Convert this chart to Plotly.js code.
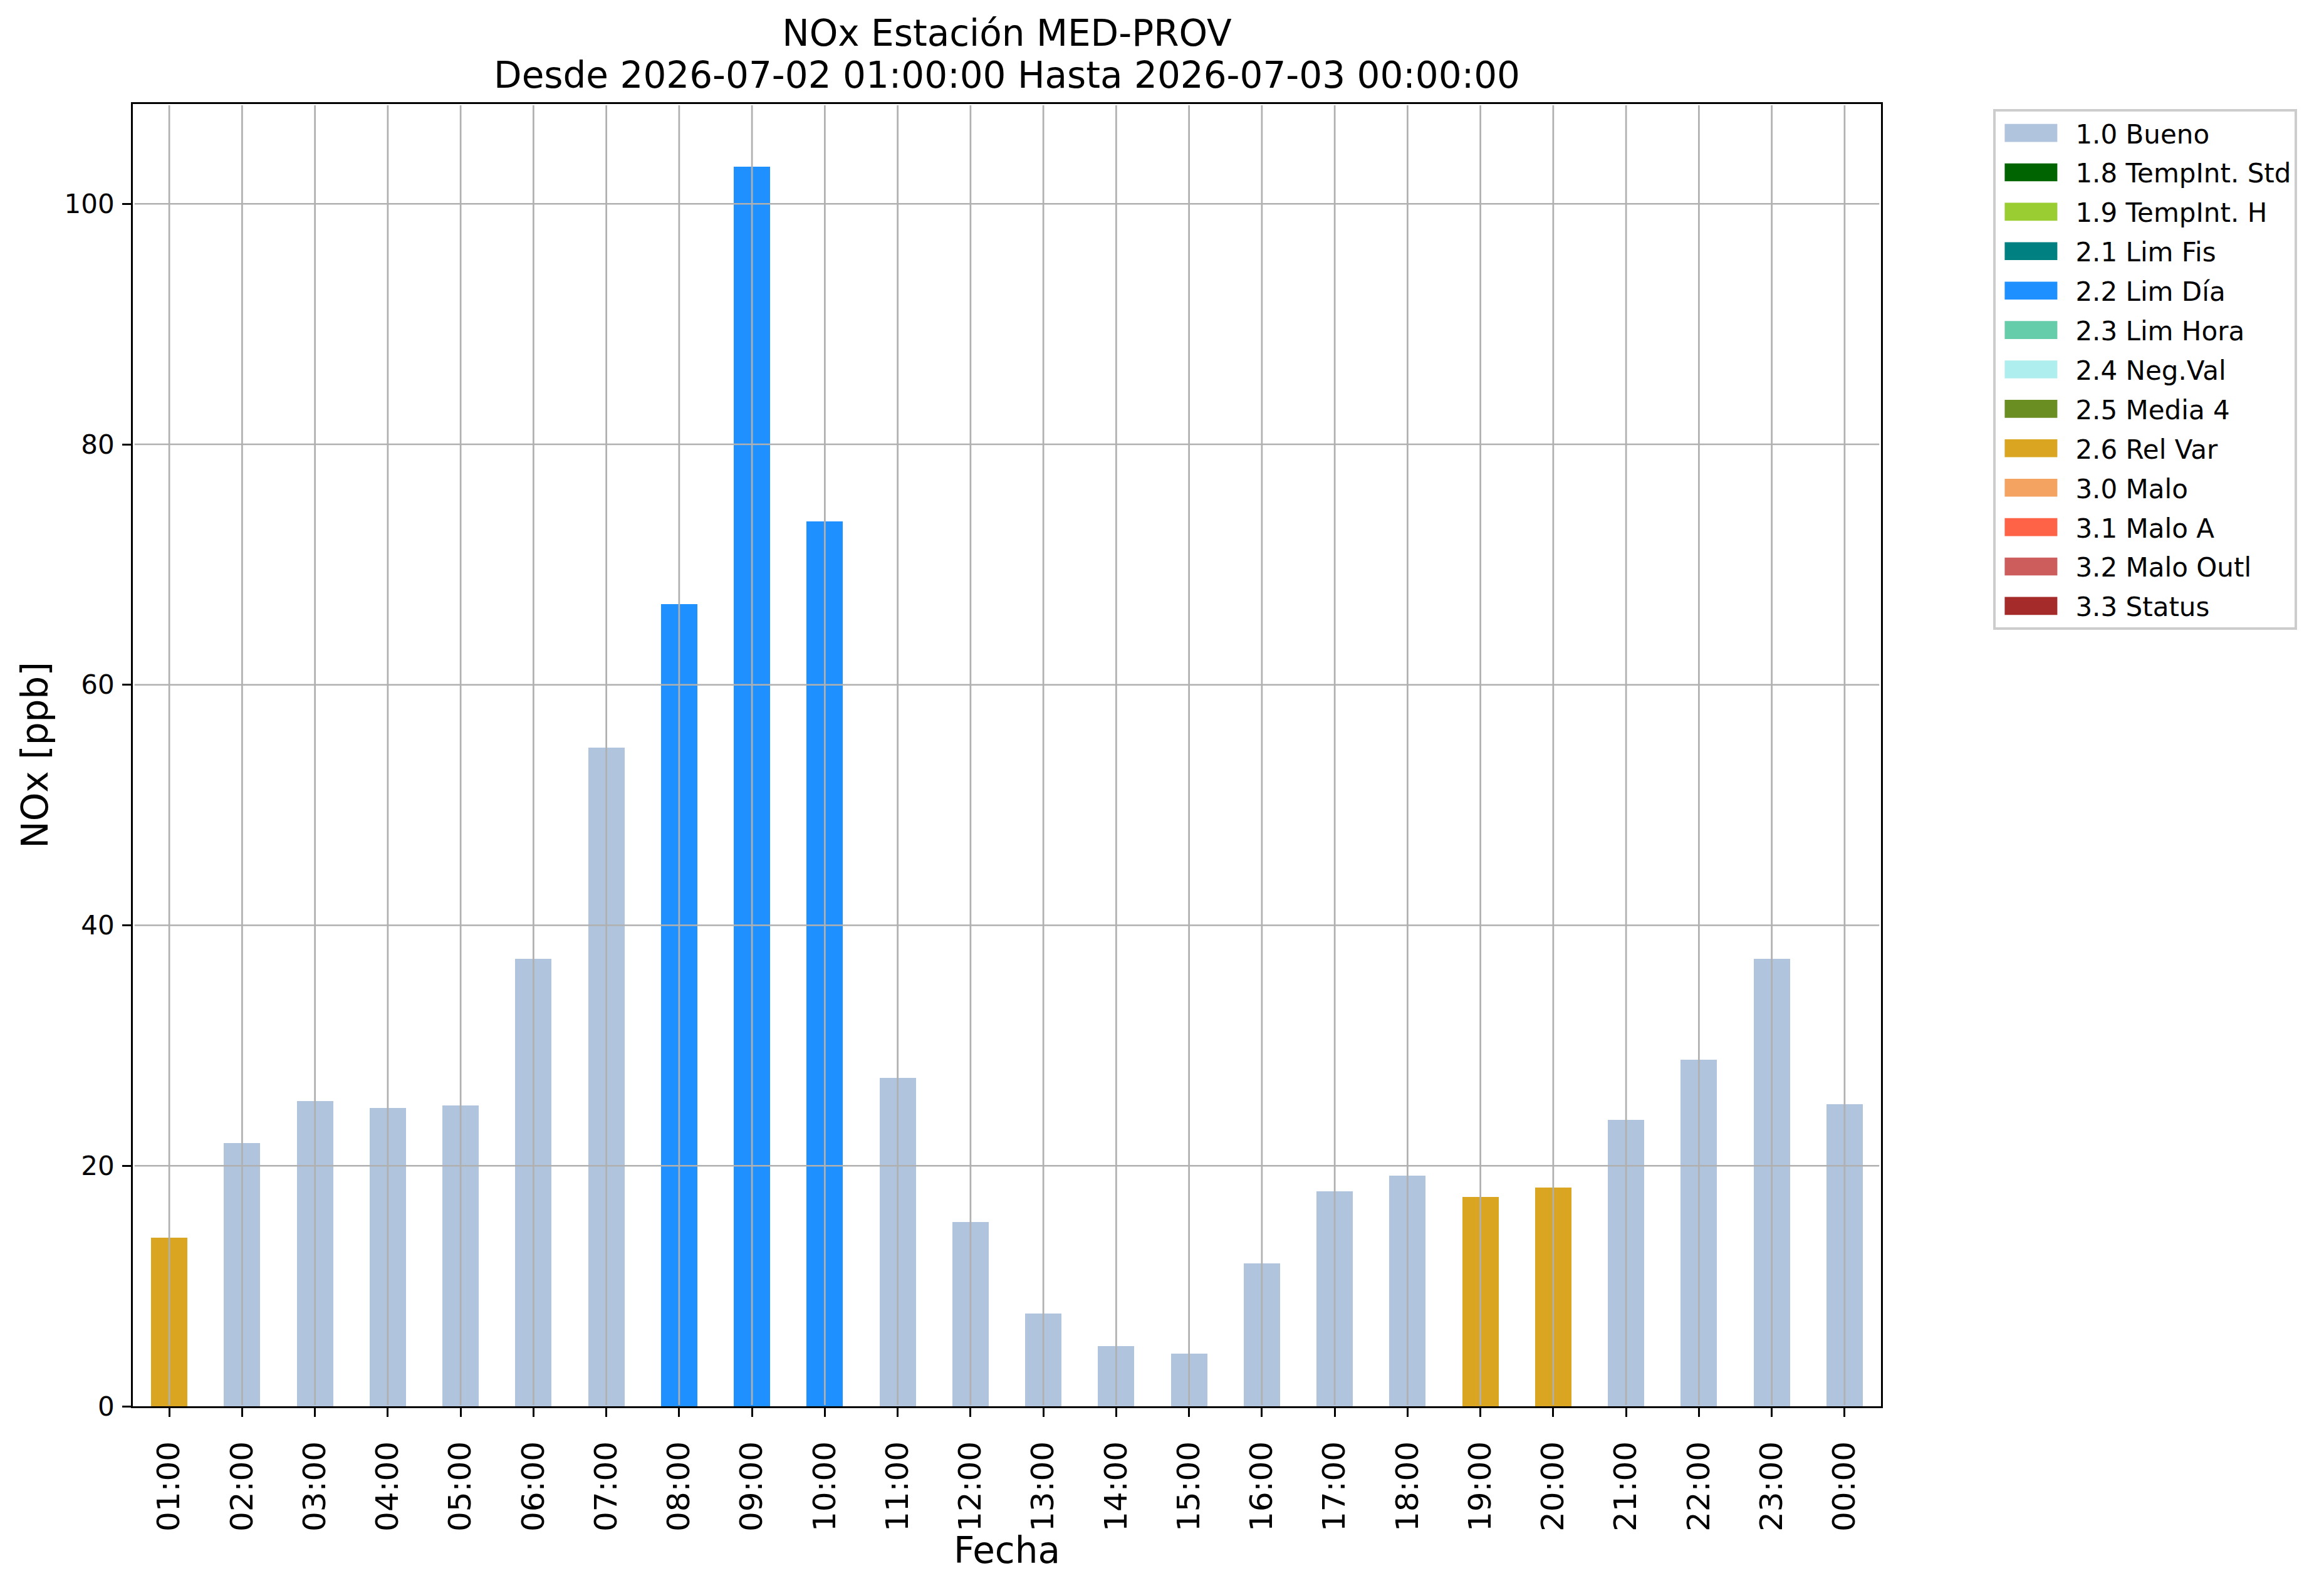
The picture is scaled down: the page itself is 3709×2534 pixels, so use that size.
<!DOCTYPE html>
<html>
<head>
<meta charset="utf-8">
<script src="https://cdn.plot.ly/plotly-3.0.1.min.js"></script>
<style>
  html, body { margin: 0; padding: 0; background: #ffffff; }
  #plot { width: 3709px; height: 2534px; }
</style>
</head>
<body>
<div id="plot"></div>
<script>
// DATA =========================================================
var hours = ['01:00', '02:00', '03:00', '04:00', '05:00', '06:00', '07:00', '08:00',
             '09:00', '10:00', '11:00', '12:00', '13:00', '14:00', '15:00', '16:00',
             '17:00', '18:00', '19:00', '20:00', '21:00', '22:00', '23:00', '00:00'];

var noxValues = [14.0, 21.9, 25.4, 24.8, 25.0, 37.2, 54.8, 66.7,
                 103.1, 73.6, 27.3, 15.3, 7.7, 5.0, 4.4, 11.9,
                 17.9, 19.2, 17.4, 18.2, 23.8, 28.8, 37.2, 25.1];

// flag of each hour (same order as hours)
var hourFlags = ['2.6 Rel Var', '1.0 Bueno', '1.0 Bueno', '1.0 Bueno', '1.0 Bueno', '1.0 Bueno',
                 '1.0 Bueno', '2.2 Lim Día', '2.2 Lim Día', '2.2 Lim Día', '1.0 Bueno', '1.0 Bueno',
                 '1.0 Bueno', '1.0 Bueno', '1.0 Bueno', '1.0 Bueno', '1.0 Bueno', '1.0 Bueno',
                 '2.6 Rel Var', '2.6 Rel Var', '1.0 Bueno', '1.0 Bueno', '1.0 Bueno', '1.0 Bueno'];

var flagNames = ['1.0 Bueno', '1.8 TempInt. Std', '1.9 TempInt. H', '2.1 Lim Fis', '2.2 Lim Día',
                 '2.3 Lim Hora', '2.4 Neg.Val', '2.5 Media 4', '2.6 Rel Var', '3.0 Malo',
                 '3.1 Malo A', '3.2 Malo Outl', '3.3 Status'];

var flagColors = ['#B0C4DE', '#006400', '#9ACD32', '#008080', '#1E90FF',
                  '#66CDAA', '#AFEEEE', '#6B8E23', '#DAA520', '#F4A460',
                  '#FF6347', '#CD5C5C', '#A52A2A'];

var yTicks = [0, 20, 40, 60, 80, 100];

var titleText = 'NOx Estación MED-PROV<br>Desde 2026-07-02 01:00:00 Hasta 2026-07-03 00:00:00';

// STYLE ========================================================
var font = 'DejaVu Sans, Verdana, sans-serif';
var gridColor = '#b0b0b0';
var lineW = 2.7;

// TRACES =======================================================
var data = [];
for (var k = 0; k < flagNames.length; k++) {
    var y = [];
    for (var i = 0; i < hours.length; i++) {
        y.push(hourFlags[i] === flagNames[k] ? noxValues[i] : null);
    }
    data.push({
        type: 'bar',
        name: flagNames[k],
        legendgroup: flagNames[k],
        x: hours,
        y: y,
        width: 0.5,
        marker: { color: flagColors[k], line: { width: 0 } },
        hoverinfo: 'x+y+name'
    });
}

// grid drawn above the bars, like the original
var shapes = [];
hours.forEach(function (h) {
    shapes.push({
        type: 'line', layer: 'above', xref: 'x', yref: 'paper',
        x0: h, x1: h, y0: 0.001, y1: 0.999,
        line: { color: gridColor, width: lineW }
    });
});
yTicks.forEach(function (v) {
    if (v === 0) return;
    shapes.push({
        type: 'line', layer: 'above', xref: 'paper', yref: 'y',
        x0: 0.001, x1: 0.999, y0: v, y1: v,
        line: { color: gridColor, width: lineW }
    });
});

var layout = {
    width: 3709,
    height: 2534,
    paper_bgcolor: '#ffffff',
    plot_bgcolor: '#ffffff',
    font: { family: font, color: '#000000' },
    margin: { l: 212, r: 707, t: 166, b: 290, pad: 0 },
    barmode: 'stack',
    title: {
        text: titleText,
        font: { family: font, size: 58, color: '#000000' },
        x: 0.5, xref: 'paper', xanchor: 'center',
        y: 0.971, yref: 'container', yanchor: 'top'
    },
    xaxis: {
        type: 'category',
        categoryorder: 'array',
        categoryarray: hours,
        range: [-0.5, hours.length - 0.5],
        showgrid: false,
        zeroline: false,
        showline: true, linecolor: '#000000', linewidth: lineW, mirror: true,
        ticks: 'outside', ticklen: 14, tickwidth: lineW, tickcolor: '#000000',
        tickangle: -90,
        ticklabelstandoff: 19,
        tickfont: { family: font, size: 50, color: '#000000' },
        title: { text: 'Fecha', font: { family: font, size: 58, color: '#000000' }, standoff: 0 },
        layer: 'above traces'
    },
    yaxis: {
        range: [0, 108.3],
        tickmode: 'array',
        tickvals: yTicks,
        ticktext: yTicks.map(String),
        showgrid: false,
        zeroline: false,
        showline: true, linecolor: '#000000', linewidth: lineW, mirror: true,
        ticks: 'outside', ticklen: 14, tickwidth: lineW, tickcolor: '#000000',
        ticklabelstandoff: 4,
        tickfont: { family: font, size: 42, color: '#000000' },
        title: { text: 'NOx [ppb]', font: { family: font, size: 58, color: '#000000' }, standoff: 8 },
        layer: 'above traces'
    },
    shapes: shapes,
    showlegend: true,
    legend: {
        x: 1.0643, y: 0.996, xanchor: 'left', yanchor: 'top',
        bgcolor: 'rgba(255,255,255,0.8)',
        bordercolor: '#cccccc', borderwidth: 4,
        font: { family: font, size: 42, color: '#000000' },
        itemwidth: 117,
        tracegroupgap: 5.3,
        traceorder: 'grouped'
    }
};

// make the legend swatches wide like matplotlib patches
function widenLegendSwatches() {
    var items = document.querySelectorAll('#plot .legend .traces');
    items.forEach(function (item) {
        var text = item.querySelector('.legendtext');
        var path = item.querySelector('path.legendbar') || item.querySelector('.legendpoints path');
        if (!text || !path) return;
        var tb = text.getBBox();
        var tm = text.getCTM(), pm = path.getCTM();
        var textLeft = tb.x + (tm.e - pm.e);
        var x0 = textLeft - 113, x1 = textLeft - 29;
        path.setAttribute('d', 'M' + x0 + ',-14.3H' + x1 + 'V14.3H' + x0 + 'Z');
    });
}

// multi-line title: tighter line spacing
function tightenTitle() {
    var lines = document.querySelectorAll('#plot .gtitle tspan.line');
    for (var i = 1; i < lines.length; i++) lines[i].setAttribute('dy', '1.15em');
}

// x title sits a little closer to the tick labels in the original
function raiseXTitle() {
    var t = document.querySelector('#plot .g-xtitle text');
    if (!t) return;
    var tr = t.getAttribute('transform') || '';
    t.setAttribute('transform', 'translate(0,-4) ' + tr);
}

Plotly.newPlot('plot', data, layout, { displayModeBar: false, responsive: false })
    .then(function () {
        widenLegendSwatches();
        tightenTitle();
        raiseXTitle();
    });
</script>
</body>
</html>
